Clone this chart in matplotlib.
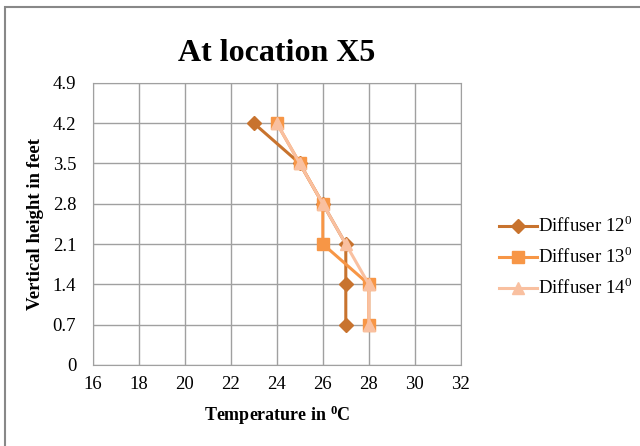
import matplotlib.pyplot as plt
from matplotlib.patches import Rectangle

heights = [4.2, 3.5, 2.8, 2.1, 1.4, 0.7]
temp_12 = [23, 25, 26, 27, 27, 27]
temp_13 = [24, 25, 26, 26, 28, 28]
temp_14 = [24, 25, 26, 27, 28, 28]
labels = ['Diffuser 12$^0$', 'Diffuser 13$^0$', 'Diffuser 14$^0$']

plt.rcParams['font.family'] = 'Liberation Serif'
plt.rcParams['mathtext.fontset'] = 'custom'
plt.rcParams['mathtext.rm'] = 'Liberation Serif'
plt.rcParams['mathtext.bf'] = 'Liberation Serif:bold'

fig = plt.figure(figsize=(6.4, 4.46), dpi=100)
ax = fig.add_axes([0.145, 0.182, 0.575, 0.632])

ax.plot(temp_12, heights, color='#C8732E', lw=2.2, marker='D', ms=7, label=labels[0])
ax.plot(temp_13, heights, color='#F79646', lw=2.2, marker='s', ms=8, label=labels[1])
ax.plot(temp_14, heights, color='#F9C0A0', lw=2.2, marker='^', ms=9, label=labels[2])

ax.set_xlim(16, 32)
ax.set_ylim(0, 4.9)
ax.set_xticks(range(16, 33, 2))
ax.set_yticks([0, 0.7, 1.4, 2.1, 2.8, 3.5, 4.2, 4.9])
ax.set_yticklabels(['0', '0.7', '1.4', '2.1', '2.8', '3.5', '4.2', '4.9'])
ax.grid(color='#A0A0A0', lw=1)
ax.set_axisbelow(True)
for s in ax.spines.values():
    s.set_color('#A0A0A0')
ax.tick_params(length=0, labelsize=13.5)
ax.tick_params(axis='y', pad=12)
ax.tick_params(axis='x', pad=8)

ax.set_title('At location X5', fontsize=23, fontweight='bold', pad=16)
ax.set_xlabel('Temperature in $\\mathbf{^0}$C', fontsize=13, fontweight='bold', labelpad=8)
ax.set_ylabel('Vertical height in feet', fontsize=13.5, fontweight='bold', labelpad=6)

ax.legend(loc='center left', bbox_to_anchor=(499 / 640, 0.424),
          bbox_transform=fig.transFigure, frameon=False, borderpad=0, borderaxespad=0,
          fontsize=13.5, handlelength=2.0, handletextpad=0.1, labelspacing=0.55)

fig.patches.append(Rectangle((0.008, -0.1), 1.2, 1.085, transform=fig.transFigure,
                             fill=False, ec='#888888', lw=1.5))

fig.savefig('out.png')
